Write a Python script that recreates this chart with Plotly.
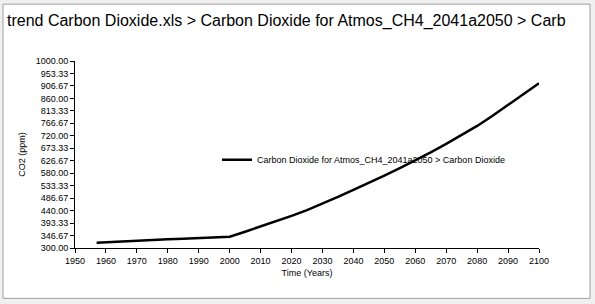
import plotly.graph_objects as go

years = [1957, 1960, 1965, 1970, 1975, 1980, 1985, 1990, 1995, 2000,
         2005, 2010, 2015, 2020, 2025, 2030, 2035, 2040, 2045, 2050,
         2055, 2060, 2065, 2070, 2075, 2080, 2085, 2090, 2095, 2100]
co2 = [320, 322, 325, 328, 331, 333, 335, 337, 339, 342,
       361, 380, 399, 420, 442, 466, 491, 518, 544, 571,
       599, 628, 658, 690, 722, 757, 795, 836, 876, 917]
series_name = "Carbon Dioxide for Atmos_CH4_2041a2050 > Carbon Dioxide"
title_text = "trend Carbon Dioxide.xls > Carbon Dioxide for Atmos_CH4_2041a2050 > Carb"

FONT = "Liberation Sans"

fig = go.Figure()
fig.add_trace(go.Scatter(x=years, y=co2, mode="lines", name=series_name,
                         line=dict(color="black", width=2.5), showlegend=True))

L, R, T, B = 75, 56, 61, 55.5
W, H = 595, 304
pw, ph = W - L - R, H - T - B

def px(xp):
    return (xp - L) / pw

def py(yp):
    return (H - B - yp) / ph

fig.update_layout(
    width=W, height=H,
    margin=dict(l=L, r=R, t=T, b=B, pad=0),
    paper_bgcolor="#f0f0f0",
    plot_bgcolor="white",
    font=dict(family=FONT, size=9, color="black"),
    title=dict(text=title_text, x=7 / W, xref="container", xanchor="left",
               y=1 - 20 / H, yanchor="middle", yref="container",
               font=dict(family=FONT, size=16, color="black")),
    showlegend=True,
    legend=dict(x=px(217), y=py(160), xanchor="left", yanchor="middle",
                bgcolor="rgba(0,0,0,0)", font=dict(size=9, family=FONT)),
    xaxis=dict(range=[1950, 2100], tick0=1950, dtick=10, ticks="outside",
               ticklen=4, tickcolor="black", showline=True, linecolor="black",
               linewidth=1, showgrid=False, zeroline=False,
               title=dict(text="Time (Years)", standoff=4, font=dict(size=9))),
    yaxis=dict(range=[300, 1000], tick0=300, dtick=700 / 15, tickformat=".2f",
               ticks="outside", ticklen=4, tickcolor="black", showline=True,
               linecolor="black", linewidth=1, showgrid=False, zeroline=False,
               title=dict(text="CO2 (ppm)", standoff=8, font=dict(size=9))),
    shapes=[dict(type="rect", xref="paper", yref="paper",
                 x0=px(3), x1=px(590), y0=py(299), y1=py(4),
                 fillcolor="white", line=dict(color="#a0a0a0", width=1),
                 layer="below")],
)

fig.write_html("out.html")
